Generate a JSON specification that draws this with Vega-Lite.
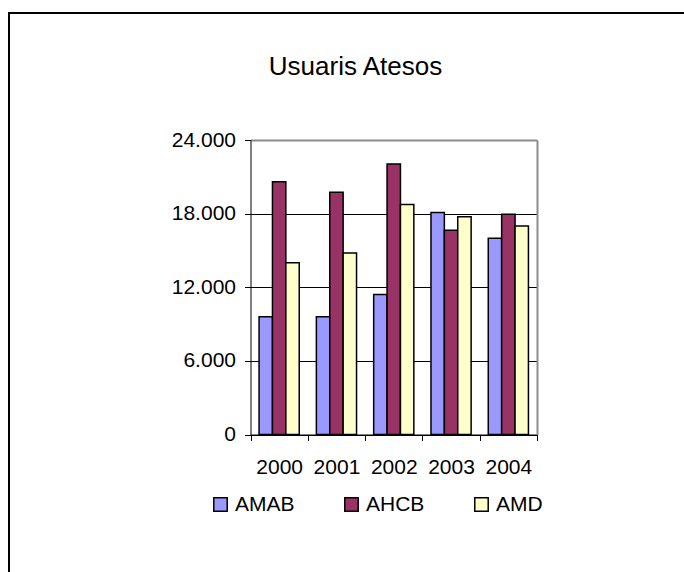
{
  "$schema": "https://vega.github.io/schema/vega-lite/v6.json",
  "width": 675,
  "height": 559,
  "autosize": {"type": "none"},
  "padding": {"left": 9, "top": 13, "right": 0, "bottom": 0},
  "background": "white",
  "config": {
    "view": {"stroke": "black", "strokeWidth": 2, "strokeDash": [675, 1234, 559], "fill": "white"}
  },
  "title": {
    "text": "Usuaris Atesos",
    "frame": "group",
    "anchor": "middle",
    "orient": "top",
    "offset": 0,
    "baseline": "alphabetic",
    "dy": 88,
    "dx": 9,
    "font": "Liberation Sans",
    "fontSize": 26,
    "fontWeight": "normal",
    "color": "black"
  },
  "data": {
    "values": [
      {"year": "2000", "series": "AMAB", "value": 9600},
      {"year": "2000", "series": "AHCB", "value": 20600},
      {"year": "2000", "series": "AMD", "value": 14000},
      {"year": "2001", "series": "AMAB", "value": 9600},
      {"year": "2001", "series": "AHCB", "value": 19750},
      {"year": "2001", "series": "AMD", "value": 14800},
      {"year": "2002", "series": "AMAB", "value": 11400},
      {"year": "2002", "series": "AHCB", "value": 22050},
      {"year": "2002", "series": "AMD", "value": 18750},
      {"year": "2003", "series": "AMAB", "value": 18100},
      {"year": "2003", "series": "AHCB", "value": 16650},
      {"year": "2003", "series": "AMD", "value": 17750},
      {"year": "2004", "series": "AMAB", "value": 16000},
      {"year": "2004", "series": "AHCB", "value": 17950},
      {"year": "2004", "series": "AMD", "value": 17000}
    ]
  },
  "encoding": {
    "x": {
      "field": "year",
      "type": "nominal",
      "scale": {"range": [241.5, 528], "paddingInner": 0, "paddingOuter": 0},
      "axis": {
        "orient": "bottom",
        "offset": -137.5,
        "title": null,
        "labelAngle": 0,
        "tickBand": "extent",
        "tickSize": 6,
        "tickColor": "black",
        "tickWidth": 1,
        "domainColor": "black",
        "domainWidth": 1,
        "labelFont": "Liberation Sans",
        "labelFontSize": 21,
        "labelColor": "black",
        "labelPadding": 16,
        "grid": false
      }
    },
    "xOffset": {
      "field": "series",
      "type": "nominal",
      "sort": ["AMAB", "AHCB", "AMD"],
      "scale": {"paddingInner": 0, "paddingOuter": 0.64}
    }
  },
  "layer": [
    {
      "mark": {"type": "bar", "stroke": "black", "strokeWidth": 1.5},
      "encoding": {
        "y": {
          "field": "value",
          "type": "quantitative",
          "scale": {"domain": [0, 24000], "range": [421.5, 127], "nice": false, "zero": true},
          "axis": {
            "orient": "left",
            "offset": -241.5,
            "values": [0, 6000, 12000, 18000, 24000],
            "title": null,
            "domainColor": "black",
            "domainWidth": 1,
            "tickColor": "black",
            "tickSize": 6,
            "tickWidth": 1,
            "labelFont": "Liberation Sans",
            "labelFontSize": 21,
            "labelColor": "black",
            "labelPadding": 9,
            "labelExpr": "replace(format(datum.value, ','), ',', '.')",
            "grid": true,
            "gridColor": {"condition": {"test": "datum.value === 24000", "value": "#8c8c8c"}, "value": "black"},
            "gridWidth": {"condition": {"test": "datum.value === 24000", "value": 2}, "value": 1}
          }
        },
        "color": {
          "field": "series",
          "type": "nominal",
          "scale": {"domain": ["AMAB", "AHCB", "AMD"], "range": ["#9999FF", "#993366", "#FFFFCC"]},
          "legend": {
            "title": null,
            "orient": "none",
            "legendX": 201,
            "legendY": 481,
            "direction": "horizontal",
            "columns": 3,
            "symbolType": "square",
            "symbolSize": 180,
            "symbolStrokeColor": "black",
            "symbolStrokeWidth": 1.5,
            "symbolOpacity": 1,
            "labelFont": "Liberation Sans",
            "labelFontSize": 21,
            "labelColor": "black",
            "labelOffset": 4,
            "columnPadding": 46,
            "gridAlign": "none",
            "padding": 0
          }
        }
      }
    },
    {
      "mark": {"type": "bar", "opacity": 0},
      "encoding": {
        "y": {
          "field": "value",
          "type": "quantitative",
          "axis": {
            "orient": "right",
            "offset": -147,
            "title": null,
            "labels": false,
            "ticks": false,
            "grid": false,
            "domainColor": "#8c8c8c",
            "domainWidth": 2
          }
        }
      }
    }
  ],
  "resolve": {"axis": {"y": "independent"}}
}
